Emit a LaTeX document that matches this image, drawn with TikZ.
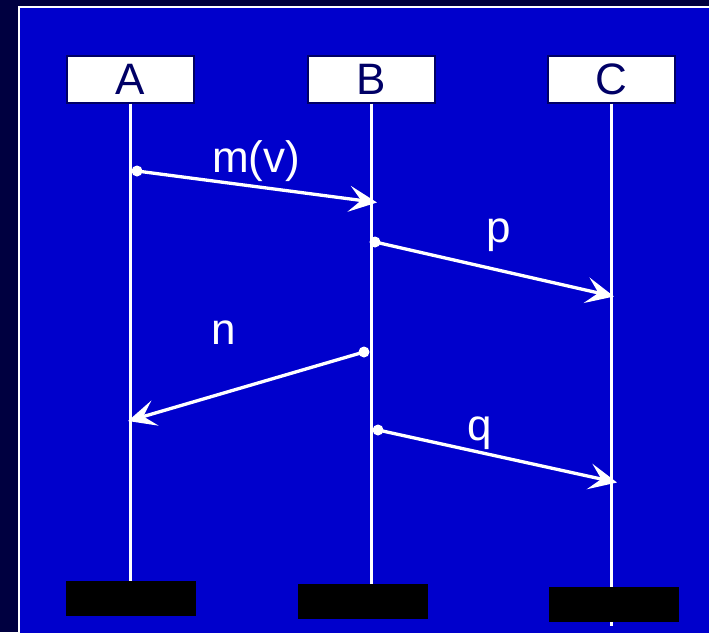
\documentclass[tikz,border=0pt]{standalone}
\usepackage{fontspec}
\setmainfont{Liberation Sans}
\usetikzlibrary{arrows.meta}
\definecolor{deepnavy}{RGB}{0,0,64}
\definecolor{slideblue}{RGB}{0,0,204}
\definecolor{inknavy}{RGB}{0,0,102}
\tikzset{
  actor/.style={draw=inknavy, line width=2pt, fill=white, text=inknavy,
    minimum width=127pt, minimum height=47pt, inner sep=0pt,
    font=\fontsize{44}{52}\selectfont},
  endbar/.style={fill=black, draw=none, minimum width=130pt, minimum height=35pt, inner sep=0pt},
  lifeline/.style={white, line width=2.5pt},
  msg/.style={white, line width=3.3pt, -{Stealth[length=28pt,width=26pt,inset=12pt]}},
  dot/.style={white},
  msglabel/.style={text=white, anchor=base, inner sep=0pt, font=\fontsize{44}{52}\selectfont},
}
\begin{document}
\begin{tikzpicture}[x=1pt,y=-1pt]
  \useasboundingbox (0,0) rectangle (709,632);
  \clip (0,0) rectangle (709,632);
  % slide backdrop and framed panel
  \fill[deepnavy] (0,0) rectangle (709,632);
  \draw[white, line width=2pt, fill=slideblue] (19,7) rectangle (715,640);

  % participants
  \node[actor] (A) at (130.5,79) {A};
  \node[actor] (B) at (371.5,79) {B};
  \node[actor] (C) at (611.5,79) {C};

  % end bars
  \node[endbar] (endA) at (131,598.5) {};
  \node[endbar] (endB) at (363,601.5) {};
  \node[endbar] (endC) at (614,604.5) {};

  % lifelines
  \coordinate (Cbottom) at (611.5,626);
  \draw[lifeline] (A.south) -- (A.south |- endA.north);
  \draw[lifeline] (B.south) -- (B.south |- endB.north);
  \draw[lifeline] (C.south) -- (Cbottom);
  \node[endbar] at (endC) {};

  % message end points
  \coordinate (mS) at (137,171);  \coordinate (mE) at (377,202.5);
  \coordinate (pS) at (375,242);  \coordinate (pE) at (614,296.5);
  \coordinate (nS) at (364,352);  \coordinate (nE) at (128,421);
  \coordinate (qS) at (378,430);  \coordinate (qE) at (617,482.5);

  % messages
  \draw[msg] (mS) -- (mE);
  \draw[msg] (pS) -- (pE);
  \draw[msg] (nS) -- (nE);
  \draw[msg] (qS) -- (qE);
  \foreach \p in {mS,pS,nS,qS} \fill[dot] (\p) circle (5.5pt);

  % message labels
  \node[msglabel] (lm) at (256,172) {m(v)};
  \node[msglabel] (lp) at (499,242) {p};
  \node[msglabel] (ln) at (224,344) {n};
  \node[msglabel] (lq) at (480,440) {q};
\end{tikzpicture}
\end{document}
